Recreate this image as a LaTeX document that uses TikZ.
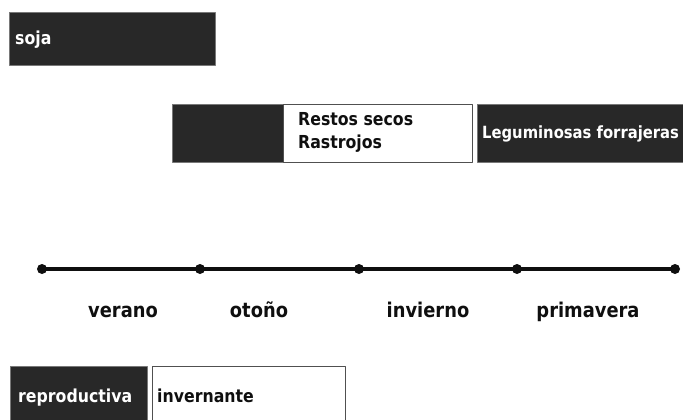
\documentclass[tikz,border=0pt]{standalone}
\usepackage{fontspec}
\setmainfont{DejaVu Sans}[FakeStretch=0.88]
\usepackage{xcolor}
\usepackage{tikz}
\usetikzlibrary{positioning}
\definecolor{cyedge}{RGB}{80,80,80}
\definecolor{cydark}{RGB}{40,40,40}
\definecolor{cyrim}{RGB}{120,120,120}
\definecolor{cyink}{RGB}{15,15,15}
\tikzset{
  cybox/.style={
    line width=0.8pt, inner sep=0pt, outer sep=0pt, anchor=north west
  },
  darkbox/.style={cybox, fill=cydark, draw=cyrim},
  lightbox/.style={cybox, fill=white, draw=cyedge},
  txt/.style={
    font=\fontsize{17.9}{23}\selectfont\bfseries, text=cyink,
    inner sep=0pt, anchor=base west
  },
  wtxt/.style={txt, text=white},
  season/.style={
    font=\fontsize{20.3}{24}\selectfont\bfseries, text=cyink,
    inner sep=0pt, anchor=base
  },
  knot/.style={circle, fill=cyink, inner sep=0pt, minimum size=10pt},
  axis/.style={draw=cyink, line width=4.2pt},
  every picture/.append style={line join=round}
}
\begin{document}
\begin{tikzpicture}[x=1pt,y=-1pt]
  \useasboundingbox (0,0) rectangle (683,420);
  % top row
  \node[darkbox, minimum width=206pt, minimum height=53pt] (soja) at (9,12) {};
  \node[wtxt] (sojatxt) at (15,45) {soja};
  \node[darkbox, minimum width=111pt, minimum height=58pt] (fallow) at (172,104) {};
  \node[lightbox, minimum width=189pt, minimum height=58pt] (restos) at (283,104) {};
  \node[txt] (restos1) at (298,125) {Restos secos};
  \node[txt] (restos2) at (298,148) {Rastrojos};
  \node[darkbox, minimum width=212pt, minimum height=58pt] (legum) at (477,104) {};
  \node[wtxt, font=\fontsize{16.8}{23}\selectfont\bfseries] (legumtxt) at (482,138) {Leguminosas forrajeras};
  % year axis
  \node[knot] (t0) at (42,269) {};
  \node[knot] (t1) at (200,269) {};
  \node[knot] (t2) at (359,269) {};
  \node[knot] (t3) at (517,269) {};
  \node[knot] (t4) at (675,269) {};
  \draw[axis] (t0.center) -- (t1.center) -- (t2.center) -- (t3.center) -- (t4.center);
  \node[season] (verano) at (123,317) {verano};
  \node[season] (otono) at (259,317) {otoño};
  \node[season] (invierno) at (428,317) {invierno};
  \node[season] (primavera) at (588,317) {primavera};
  % bottom row
  \node[darkbox, minimum width=137pt, minimum height=60pt] (repro) at (10,366) {};
  \node[wtxt] (reprotxt) at (18,402) {reproductiva};
  \node[lightbox, minimum width=193pt, minimum height=60pt] (inver) at (152,366) {};
  \node[txt] (invertxt) at (157,402) {invernante};
\end{tikzpicture}
\end{document}
